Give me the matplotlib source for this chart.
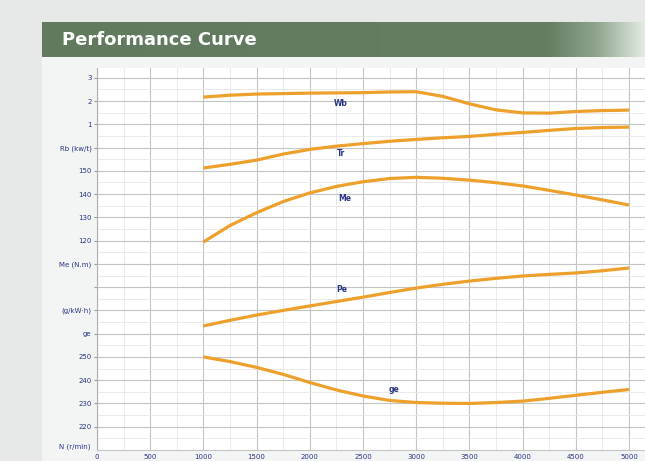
import numpy as np
import matplotlib.pyplot as plt
from matplotlib.colors import LinearSegmentedColormap

# engine speed (r/min)
speed = [1000, 1250, 1500, 1750, 2000, 2250, 2500, 2750, 3000, 3250, 3500,
         3750, 4000, 4250, 4500, 4750, 5000]

wb = [2.17, 2.25, 2.30, 2.32, 2.34, 2.35, 2.36, 2.39, 2.40, 2.20, 1.88,
      1.62, 1.49, 1.48, 1.55, 1.59, 1.61]
tr = [1.12, 1.28, 1.46, 1.72, 1.92, 2.06, 2.17, 2.27, 2.35, 2.42, 2.48,
      2.57, 2.65, 2.74, 2.82, 2.86, 2.88]
me = [119.4, 126.5, 132.0, 136.8, 140.5, 143.3, 145.3, 146.7, 147.2, 146.8, 146.0,
      144.9, 143.5, 141.6, 139.6, 137.5, 135.3]
pe = [12.2, 17.8, 23.0, 27.6, 32.0, 36.4, 40.7, 45.3, 49.7, 53.4, 56.6,
      59.3, 61.6, 63.2, 64.6, 66.8, 69.5]
ge = [250.0, 248.0, 245.5, 242.5, 239.0, 235.8, 233.2, 231.3, 230.4, 230.1, 230.0,
      230.4, 231.0, 232.2, 233.5, 234.8, 236.0]

x_ticks = [0, 500, 1000, 1500, 2000, 2500, 3000, 3500, 4000, 4500, 5000]
y_rows = list(range(1, 17))
y_labels = ['220', '230', '240', '250', 'ge', '(g/kW·h)', '', 'Me (N.m)',
            '120', '130', '140', '150', 'Rb (kw/t)', '1', '2', '3']

# every quantity is drawn on a common "row" scale (one row per label)
def row_wb(v): return np.array(v) + 13
def row_tr(v): return np.array(v) + 11
def row_me(v): return 9 + (np.array(v) - 120) / 10
def row_pe(v): return 4.8 + np.array(v) / 23
def row_ge(v): return 1 + (np.array(v) - 220) / 10

curve_col = '#eea02c'
label_col = '#2a3580'

fig = plt.figure(figsize=(6.45, 4.61), dpi=100)
fig.patch.set_facecolor('#e6e9e8')

# light panel behind chart
panel = fig.add_axes([0.0651, 0.0, 0.9349, 0.876])
panel.set_facecolor('#f3f5f4')
panel.set_xticks([])
panel.set_yticks([])
for s in panel.spines.values():
    s.set_visible(False)

# title banner with fade on the right
banner = fig.add_axes([0.0651, 0.876, 0.9349, 0.0759])
cmap = LinearSegmentedColormap.from_list('ban', [(0, '#617a5e'), (0.84, '#667d64'),
                                                 (0.92, '#8fa58d'), (1.0, '#e4ece4')])
banner.imshow(np.linspace(0, 1, 256).reshape(1, -1), aspect='auto', cmap=cmap,
              extent=[0, 1, 0, 1])
banner.set_xlim(0, 1)
banner.set_ylim(0, 1)
banner.axis('off')
banner.text(0.033, 0.5, 'Performance Curve', color='white', fontsize=13,
            fontweight='bold', va='center', ha='left')

ax = fig.add_axes([0.1504, 0.0239, 0.8496, 0.8286])
ax.set_facecolor('white')
ax.set_xlim(0, 5150)
ax.set_ylim(0, 16.42)

ax.set_xticks(x_ticks)
ax.set_xticks(np.arange(250, 5150, 500), minor=True)
ax.set_yticks(y_rows)
ax.set_yticklabels(y_labels)
ax.set_yticks(np.arange(0.5, 16.5, 1), minor=True)
ax.set_xticklabels([str(v) for v in x_ticks])
ax.tick_params(axis='y', labelsize=5, colors='#9a9a9a', labelcolor=label_col,
               length=2, pad=2)
ax.tick_params(axis='x', labelsize=5, labelcolor=label_col, length=0, pad=3)
ax.tick_params(which='minor', length=0)
ax.grid(which='major', color='#c4c4c4', linewidth=0.8)
ax.grid(which='minor', color='#e6e6e6', linewidth=0.6)
ax.set_axisbelow(True)
for s in ['top', 'right']:
    ax.spines[s].set_visible(False)
ax.spines['left'].set_color('#b0b0b0')
ax.spines['bottom'].set_color('#c4c4c4')
ax.text(-60, 0.13, 'N (r/min)', fontsize=5, color=label_col, ha='right', va='center')

lw = 2.3
for vals, conv in [(wb, row_wb), (tr, row_tr), (me, row_me), (pe, row_pe), (ge, row_ge)]:
    ax.plot(speed, conv(vals), color=curve_col, lw=lw,
            solid_capstyle='butt', solid_joinstyle='round')

lab = dict(fontsize=5.5, color=label_col, fontweight='bold', ha='center', va='center')
ax.text(2290, 14.91, 'Wb', **lab)
ax.text(2290, 12.76, 'Tr', **lab)
ax.text(2326, 10.83, 'Me', **lab)
ax.text(2300, 6.88, 'Pe', **lab)
ax.text(2795, 2.58, 'ge', **lab)

fig.savefig('out.png', dpi=100, facecolor=fig.get_facecolor())
